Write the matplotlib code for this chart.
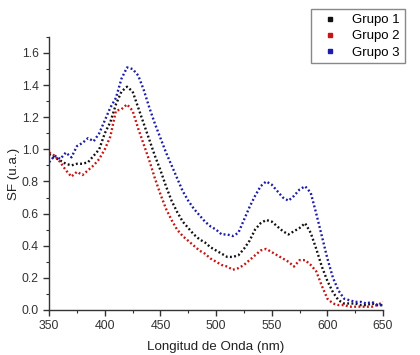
import matplotlib
matplotlib.use("Agg")
import matplotlib.pyplot as plt
from matplotlib.lines import Line2D
from matplotlib.ticker import MultipleLocator

plt.rcParams['font.family'] = ['Liberation Sans', 'DejaVu Sans']

# -----------------------------------
# Data
# -----------------------------------
wavelength = list(range(350, 651, 5))

grupo1 = [0.97, 0.95, 0.93, 0.91, 0.90, 0.91, 0.91, 0.92, 0.96, 1.00,
          1.10, 1.17, 1.28, 1.36, 1.39, 1.36, 1.26, 1.16, 1.06, 0.96,
          0.87, 0.77, 0.68, 0.61, 0.55, 0.51, 0.47, 0.44, 0.42, 0.39,
          0.37, 0.35, 0.33, 0.33, 0.34, 0.38, 0.43, 0.50, 0.54, 0.56,
          0.55, 0.52, 0.49, 0.47, 0.49, 0.51, 0.54, 0.48, 0.38, 0.27,
          0.18, 0.11, 0.06, 0.04, 0.04, 0.04, 0.03, 0.03, 0.04, 0.03,
          0.03]

grupo2 = [0.98, 0.96, 0.92, 0.87, 0.83, 0.86, 0.84, 0.87, 0.90, 0.94,
          1.00, 1.08, 1.24, 1.25, 1.28, 1.24, 1.13, 1.03, 0.93, 0.82,
          0.72, 0.63, 0.56, 0.50, 0.46, 0.43, 0.40, 0.37, 0.35, 0.32,
          0.30, 0.28, 0.27, 0.25, 0.26, 0.28, 0.31, 0.34, 0.37, 0.38,
          0.36, 0.34, 0.32, 0.30, 0.27, 0.31, 0.31, 0.28, 0.24, 0.15,
          0.07, 0.04, 0.03, 0.03, 0.02, 0.02, 0.02, 0.02, 0.02, 0.03,
          0.05]

grupo3 = [0.92, 0.96, 0.94, 0.98, 0.95, 1.02, 1.04, 1.07, 1.05, 1.10,
          1.18, 1.26, 1.32, 1.44, 1.51, 1.50, 1.46, 1.37, 1.26, 1.16,
          1.07, 0.98, 0.90, 0.82, 0.74, 0.68, 0.63, 0.59, 0.55, 0.52,
          0.50, 0.47, 0.47, 0.46, 0.48, 0.56, 0.64, 0.71, 0.77, 0.80,
          0.78, 0.74, 0.70, 0.68, 0.71, 0.75, 0.77, 0.73, 0.60, 0.46,
          0.32, 0.20, 0.12, 0.07, 0.06, 0.05, 0.05, 0.04, 0.05, 0.03,
          0.03]

labels = ["Grupo 1", "Grupo 2", "Grupo 3"]
colors = ["#111111", "#c81414", "#1c1ca8"]

# -----------------------------------
# Figure
# -----------------------------------
fig = plt.figure(figsize=(4.2, 3.55), dpi=100)
ax = fig.add_axes([0.117, 0.127, 0.795, 0.769])

for series, c in zip([grupo1, grupo2, grupo3], colors):
    ax.plot(wavelength, series, color=c, lw=1.7, linestyle=(0, (0.8, 1.0)))

ax.set_xlim(350, 650)
ax.set_ylim(0, 1.7)
ax.xaxis.set_major_locator(MultipleLocator(50))
ax.xaxis.set_minor_locator(MultipleLocator(25))
ax.yaxis.set_minor_locator(MultipleLocator(0.1))
ax.set_yticks([0.0, 0.2, 0.4, 0.6, 0.8, 1.0, 1.2, 1.4, 1.6])

for side in ["top", "right"]:
    ax.spines[side].set_visible(False)
for side in ["left", "bottom"]:
    ax.spines[side].set_color("#333333")
    ax.spines[side].set_linewidth(1.0)

ax.tick_params(which="major", direction="out", length=4, width=1,
               color="#333333", labelsize=8.8, labelcolor="#333333")
ax.tick_params(which="minor", direction="out", length=2.5, width=0.8,
               color="#333333")

ax.set_xlabel("Longitud de Onda (nm)", fontsize=9.6, color="#222222", labelpad=6)
ax.set_ylabel("SF (u.a.)", fontsize=9.6, color="#222222", labelpad=1.5)

handles = [Line2D([], [], marker="s", ls="none", ms=2.5, color=c) for c in colors]
leg = fig.legend(handles, labels, loc="upper right",
                 bbox_to_anchor=(0.979, 0.992), fontsize=9.5,
                 fancybox=False, framealpha=1, edgecolor="#888888",
                 handlelength=2.2, handletextpad=0.6, borderpad=0.35,
                 labelspacing=0.3)
leg.get_frame().set_linewidth(1.0)

fig.savefig("out.png", dpi=100)
